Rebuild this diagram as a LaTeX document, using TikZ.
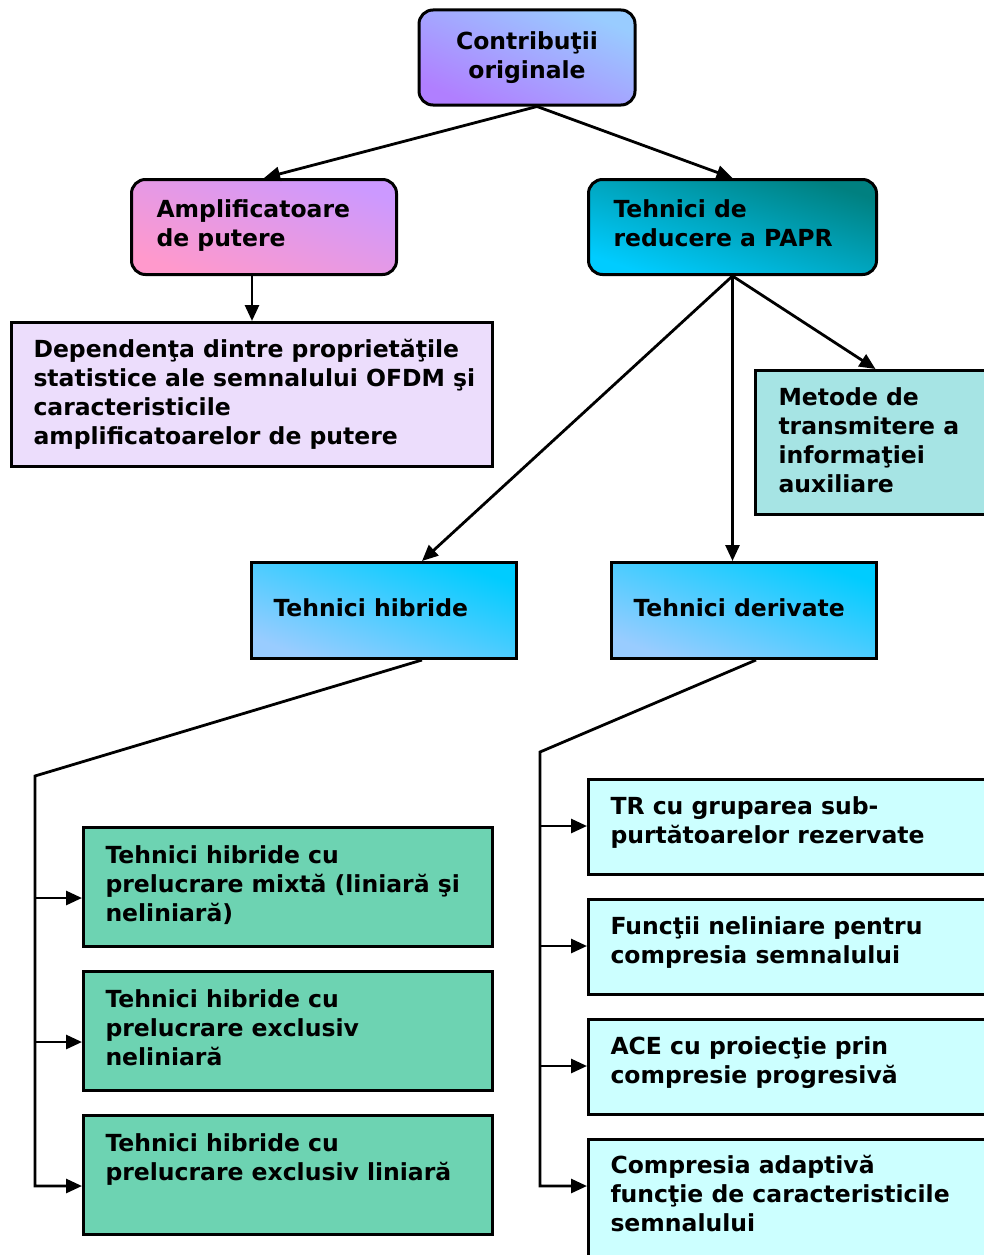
\documentclass[tikz,border=0pt]{standalone}
\usepackage{fontspec}
\setmainfont{DejaVu Sans}
\usetikzlibrary{arrows.meta}

\definecolor{viola}{HTML}{B07FFF}
\definecolor{celeste}{HTML}{99CCFF}
\definecolor{rosa}{HTML}{FF99CC}
\definecolor{lilla}{HTML}{CC99FF}
\definecolor{ciano}{HTML}{00CCFF}
\definecolor{ottanio}{HTML}{008080}
\definecolor{lavanda}{HTML}{ECDDFC}
\definecolor{acqua}{HTML}{A6E4E4}
\definecolor{verdeacqua}{HTML}{6DD3B2}
\definecolor{cianochiaro}{HTML}{CCFFFF}

\begin{document}
\begin{tikzpicture}[x=1pt,y=-1pt,>={Triangle[length=16pt,width=14pt]}]

% Stili per caselle e frecce
\tikzset{
  casella/.style={draw, line width=3pt, anchor=north west, align=flush left,
    inner xsep=22pt, inner ysep=0pt, text height=35pt,
    font=\bfseries\fontsize{23.5}{29}\selectfont},
  tonda/.style={casella, rounded corners=14pt},
  sfuma/.style n args={3}{bottom color=#1, top color=#2, shading angle=#3},
  freccia/.style={->, line width=2.8pt}
}

\useasboundingbox (0,0) rectangle (984,1255);

% --- Livello superiore ---
\node[tonda, anchor=center, align=center, inner xsep=0pt, text height=, text depth=,
  minimum width=216pt, minimum height=95pt, sfuma={viola}{celeste}{-24}] (orig) at (527,57.5)
  {Contribuţii\\originale};

\node[tonda, inner xsep=25pt, text width=215pt, text height=38pt, text depth=57pt,
  sfuma={rosa}{lilla}{-20}] (amp) at (130,178) {Amplificatoare\\de putere};
\node[tonda, inner xsep=25pt, text width=238pt, text height=38pt, text depth=57pt,
  sfuma={ciano}{ottanio}{-18}] (papr) at (587,178) {Tehnici de\\reducere a PAPR};

% --- Livello intermedio ---
\node[casella, fill=lavanda, text width=437pt, text depth=109pt] (dep) at (10,321)
  {Dependenţa dintre proprietăţile\\\mbox{statistice ale semnalului OFDM şi}\\caracteristicile\\amplificatoarelor de putere};
\node[casella, fill=acqua, inner xsep=23pt, text width=194pt, text depth=109pt] (met) at (754,369)
  {Metode de\\transmitere a\\informaţiei\\auxiliare};

\node[casella, sfuma={celeste}{ciano}{-20},
  text width=221pt, text height=54pt, text depth=42pt] (hib) at (250,561) {Tehnici hibride};
\node[casella, sfuma={celeste}{ciano}{-20},
  text width=221pt, text height=54pt, text depth=42pt] (der) at (610,561) {Tehnici derivate};

% --- Tecniche ibride ---
\node[casella, fill=verdeacqua, text width=365pt, text height=36pt, text depth=83pt] (g1) at (82,826)
  {Tehnici hibride cu\\\mbox{prelucrare mixtă (liniară şi}\\neliniară)};
\node[casella, fill=verdeacqua, text width=365pt, text height=36pt, text depth=83pt] (g2) at (82,970)
  {Tehnici hibride cu\\prelucrare exclusiv\\neliniară};
\node[casella, fill=verdeacqua, text width=365pt, text height=36pt, text depth=83pt] (g3) at (82,1114)
  {Tehnici hibride cu\\\mbox{prelucrare exclusiv liniară}};

% --- Tecniche derivate ---
\node[casella, fill=cianochiaro, text width=376pt, text depth=60pt] (r1) at (587,778)
  {TR cu gruparea sub-\\purtătoarelor rezervate};
\node[casella, fill=cianochiaro, text width=376pt, text depth=60pt] (r2) at (587,898)
  {Funcţii neliniare pentru\\compresia semnalului};
\node[casella, fill=cianochiaro, text width=376pt, text depth=60pt] (r3) at (587,1018)
  {ACE cu proiecţie prin\\compresie progresivă};
\node[casella, fill=cianochiaro, text width=376pt, text height=34pt, text depth=96pt] (r4) at (587,1138)
  {Compresia adaptivă\\funcţie de caracteristicile\\semnalului};

% Punti di arrivo delle frecce
\foreach \b in {g1,g2,g3}
  \coordinate (in-\b) at ([yshift=-72pt]\b.north west);
\foreach \b in {r1,r2,r3,r4}
  \coordinate (in-\b) at ([yshift=-48pt]\b.north west);
\coordinate (bushib) at (35,776);
\coordinate (busder) at (540,752);

% Frecce
\draw[freccia] ([xshift=10pt]orig.south) -- (amp.north);
\draw[freccia] ([xshift=10pt]orig.south) -- (papr.north);
\draw[freccia] (dep.north |- amp.south) -- (dep.north);
\draw[freccia] (papr.south) -- ([xshift=38pt]hib.north);
\draw[freccia] (papr.south) -- (papr.south |- der.north);
\draw[freccia] (papr.south) -- (met.north);

\draw[freccia] ([xshift=38pt]hib.south) -- (bushib) |- (in-g3);
\foreach \b in {g1,g2}
  \draw[freccia] (bushib |- in-\b) -- (in-\b);

\draw[freccia] ([xshift=12pt]der.south) -- (busder) |- (in-r4);
\foreach \b in {r1,r2,r3}
  \draw[freccia] (busder |- in-\b) -- (in-\b);

\end{tikzpicture}
\end{document}
